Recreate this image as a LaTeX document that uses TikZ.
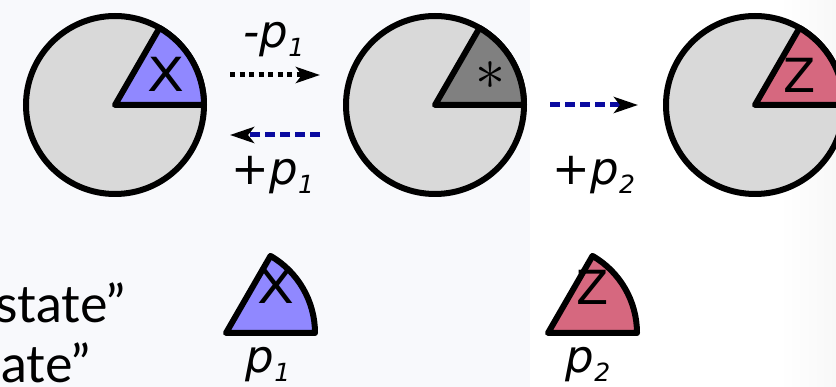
\documentclass[tikz,border=0pt]{standalone}
\usepackage{fix-cm}
\usepackage{fontspec}
\setmainfont{Lato}
\newfontfamily\djv{DejaVu Sans}
\usetikzlibrary{arrows.meta}
\definecolor{bgA}{HTML}{F8F9FC}
\definecolor{bgR}{HTML}{F8F8F8}
\definecolor{pieGray}{HTML}{D9D9D9}
\definecolor{wedgeX}{HTML}{9088FF}
\definecolor{wedgeStar}{HTML}{808080}
\definecolor{wedgeZ}{HTML}{D6687F}
\definecolor{arrBlue}{HTML}{0A0AA0}
\newcommand{\psub}[2]{{\djv\itshape #1p}\raisebox{-8.5pt}{\fontsize{25}{25}\selectfont\djv\itshape #2}}
\begin{document}
\begin{tikzpicture}[x=1pt,y=-1pt,
  pie/.style={circle, draw=black, line width=6pt, fill=pieGray, minimum size=178pt, inner sep=0pt},
  wedge/.style={draw=black, line width=6pt, line join=round},
  wlbl/.style={font=\fontsize{47}{47}\selectfont\djv, inner sep=0pt, anchor=base},
  xlbl/.style={wlbl, xscale=1.15},
  plbl/.style={font=\fontsize{45}{45}\selectfont, inner sep=0pt, anchor=base},
  side/.style={font=\fontsize{52}{52}\selectfont, inner sep=0pt, anchor=base east},
  dotarrow/.style={line width=5pt, dash pattern=on 5pt off 4.5pt, -{Stealth[length=24pt,width=16pt,inset=6pt]}},
  bluearrow/.style={arrBlue, line width=5pt, dash pattern=on 10pt off 5pt, -{Stealth[length=24pt,width=16pt,inset=6pt,color=black]}}]
\useasboundingbox (0,0) rectangle (836,387);
\clip (0,0) rectangle (836,387);
\fill[bgA] (0,0) rectangle (836,387);
\fill[white] (530,0) rectangle (780,387);
\shade[left color=white, right color=bgR] (780,0) rectangle (836,387);

% circles
\node[pie] (c1) at (115,105) {};
\node[pie] (c2) at (435,105) {};
\node[pie] (c3) at (755,105) {};
\draw[wedge, fill=wedgeX] (c1.center) -- ++(89,0) arc[start angle=0, end angle=-60, radius=89] -- cycle;
\draw[wedge, fill=wedgeStar] (c2.center) -- ++(89,0) arc[start angle=0, end angle=-60, radius=89] -- cycle;
\draw[wedge, fill=wedgeZ] (c3.center) -- ++(89,0) arc[start angle=0, end angle=-60, radius=89] -- cycle;
\node[xlbl] (tx) at (166,92) {X};
\node[inner sep=0pt, font=\fontsize{60}{60}\selectfont] (ts) at (490,76) {$\ast$};
\node[wlbl] (tz) at (800,93) {Z};

% arrows
\coordinate (a1s) at (230,75);
\coordinate (a1e) at (320,75);
\coordinate (a2s) at (320,135);
\coordinate (a2e) at (230,135);
\coordinate (a3s) at (550,105);
\coordinate (a3e) at (638,105);
\draw[dotarrow] (a1s) -- (a1e);
\draw[bluearrow] (a2s) -- (a2e);
\draw[bluearrow] (a3s) -- (a3e);
\node[plbl] (l1) at (274,48) {\psub{-}{1}};
\node[plbl] (l2) at (273,185) {\psub{+}{1}};
\node[plbl] (l3) at (594,185) {\psub{+}{2}};

% bottom wedges
\coordinate (w1) at (226,333);
\coordinate (w2) at (548,333);
\draw[wedge, fill=wedgeX] (w1) -- ++(89,0) arc[start angle=0, end angle=-60, radius=89] -- cycle;
\draw[wedge, fill=wedgeZ] (w2) -- ++(89,0) arc[start angle=0, end angle=-60, radius=89] -- cycle;
\node[xlbl] (bx) at (276,304) {X};
\node[wlbl] (bz) at (593,305) {Z};
\node[plbl] (bp1) at (268,373) {\psub{}{1}};
\node[plbl] (bp2) at (588,373) {\psub{}{2}};

% side text
\node[side] (s1) at (126,323) {state”};
\node[side] (s2) at (91,383) {ate”};
\end{tikzpicture}
\end{document}
